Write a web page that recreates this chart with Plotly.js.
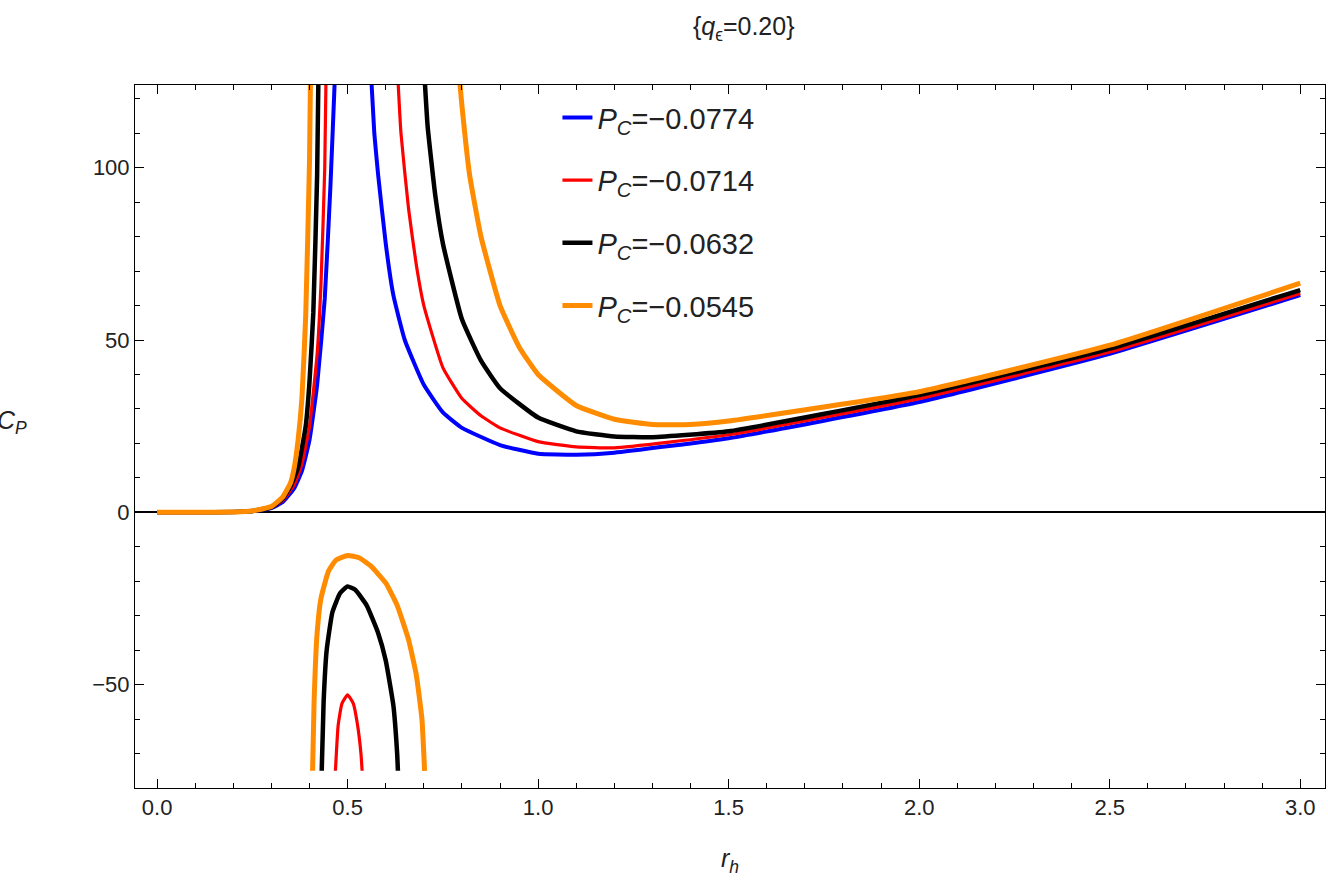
<!DOCTYPE html>
<html><head><meta charset="utf-8">
<script src="https://cdn.plot.ly/plotly-3.0.1.min.js"></script>
<style>body{margin:0}</style></head>
<body><div id="chart" style="width:1328px;height:892px"></div>
<script>
var labels = ['<i>P<sub>C</sub></i>=\u22120.0774', '<i>P<sub>C</sub></i>=\u22120.0714', '<i>P<sub>C</sub></i>=\u22120.0632', '<i>P<sub>C</sub></i>=\u22120.0545'];
var colors = ['#0000ff', '#ff0000', '#000000', '#ff8c00'];
var widths = [4, 3.2, 4.5, 5];

// left (small r_h) branches
var leftX = [
  [0, 0.1, 0.2, 0.25, 0.3, 0.33, 0.36, 0.38, 0.40, 0.42, 0.44, 0.455, 0.465, 0.475],
  [0, 0.1, 0.2, 0.25, 0.3, 0.33, 0.36, 0.38, 0.40, 0.42, 0.43, 0.44, 0.445],
  [0, 0.1, 0.2, 0.25, 0.3, 0.33, 0.35, 0.37, 0.39, 0.40, 0.41, 0.42, 0.425],
  [0, 0.1, 0.2, 0.25, 0.3, 0.33, 0.35, 0.36, 0.37, 0.38, 0.39, 0.40, 0.405]
];
var leftY = [
  [0, 0, 0.1, 0.3, 1.2, 3, 7, 12, 21, 37, 62, 95, 122, 150],
  [0, 0, 0.1, 0.3, 1.3, 3.5, 8, 14, 25, 46, 66, 100, 140],
  [0, 0, 0.1, 0.4, 1.5, 4, 7.5, 13, 25, 38, 58, 98, 140],
  [0, 0, 0.1, 0.4, 1.7, 4.5, 8.5, 13, 21, 33, 57, 102, 150]
];
// right (large r_h) branches
var rightX = [
  [0.56, 0.57, 0.58, 0.6, 0.62, 0.65, 0.7, 0.75, 0.8, 0.9, 1.0, 1.1, 1.2, 1.5, 2.0, 2.5, 3.0],
  [0.63, 0.64, 0.66, 0.68, 0.7, 0.75, 0.8, 0.85, 0.9, 1.0, 1.1, 1.2, 1.5, 2.0, 2.5, 3.0],
  [0.70, 0.71, 0.73, 0.75, 0.8, 0.85, 0.9, 1.0, 1.1, 1.2, 1.3, 1.5, 2.0, 2.5, 3.0],
  [0.79, 0.80, 0.82, 0.85, 0.9, 0.95, 1.0, 1.1, 1.2, 1.3, 1.4, 1.5, 2.0, 2.5, 3.0]
];
var rightY = [
  [130, 110, 98, 78, 63, 50, 37, 29, 24.5, 19.5, 17, 16.7, 17.3, 21.5, 32, 46, 63],
  [130, 110, 88, 72, 60, 42, 33, 28, 24.5, 20.5, 19, 18.7, 22.5, 33, 46.5, 63.5],
  [130, 112, 92, 78, 56, 44, 36, 27.5, 23.5, 22, 21.8, 23.5, 34, 47.5, 64.5],
  [130, 118, 98, 80, 60, 48, 40, 31, 27, 25.5, 25.5, 26.5, 35, 48.5, 66.5]
];
// negative branches (between the two divergences)
var negX = [
  [],
  [0.468, 0.475, 0.485, 0.5, 0.515, 0.525, 0.535, 0.538],
  [0.432, 0.437, 0.445, 0.46, 0.48, 0.5, 0.52, 0.55, 0.58, 0.6, 0.62, 0.63, 0.632],
  [0.408, 0.412, 0.42, 0.43, 0.45, 0.47, 0.5, 0.53, 0.56, 0.6, 0.63, 0.66, 0.68, 0.695, 0.702]
];
var negY = [
  [],
  [-75, -62, -55.5, -53, -55.5, -61, -70, -75],
  [-75, -55, -40, -29, -23.5, -21.5, -22.5, -27, -35, -43, -56, -70, -75],
  [-75, -55, -35, -25, -17, -13.8, -12.5, -13.2, -15.5, -20.5, -27, -37, -47, -60, -75]
];

var data = [];
for (var i = 0; i < 4; i++) {
  var ln = {color: colors[i], width: widths[i], shape: 'spline', smoothing: 0.4};
  data.push({x: leftX[i], y: leftY[i], mode: 'lines', line: ln, name: labels[i], legendgroup: 'g' + i, showlegend: true});
  data.push({x: rightX[i], y: rightY[i], mode: 'lines', line: ln, name: labels[i], legendgroup: 'g' + i, showlegend: false});
  if (negX[i].length) data.push({x: negX[i], y: negY[i], mode: 'lines', line: ln, name: labels[i], legendgroup: 'g' + i, showlegend: false});
}

var axisStyle = {showgrid: false, ticks: 'inside', ticklen: 9, tickcolor: '#000', mirror: 'ticks',
  showline: true, linecolor: '#000', linewidth: 1, tickfont: {size: 22, color: '#222'}};

var layout = {
  width: 1328, height: 892,
  margin: {l: 135, r: 3, t: 85, b: 104},
  paper_bgcolor: '#fff', plot_bgcolor: '#fff',
  font: {family: 'Liberation Sans, Arial, sans-serif', color: '#222'},
  title: {text: '{<i>q</i><sub>\u03f5</sub>=0.20}', font: {size: 25}, x: 0.56, y: 0.98},
  xaxis: Object.assign({}, axisStyle, {range: [-0.058, 3.065], tickvals: [0, 0.5, 1, 1.5, 2, 2.5, 3],
    ticktext: ['0.0', '0.5', '1.0', '1.5', '2.0', '2.5', '3.0'], zeroline: false,
    minor: {ticks: 'inside', ticklen: 5, tickcolor: '#000', dtick: 0.1},
    title: {text: '<i>r<sub>h</sub></i>', font: {size: 25}, standoff: 30}}),
  yaxis: Object.assign({}, axisStyle, {range: [-80, 124], tickvals: [-50, 0, 50, 100], ticktext: ['\u221250', '0', '50', '100'],
    zeroline: true, zerolinecolor: '#000', zerolinewidth: 1.5,
    minor: {ticks: 'inside', ticklen: 5, tickcolor: '#000', dtick: 10}}),
  legend: {x: 0.355, y: 0.99, xanchor: 'left', yanchor: 'top', font: {size: 29}, bgcolor: 'rgba(0,0,0,0)', tracegroupgap: 22},
  annotations: [{text: '<i>C<sub>P</sub></i>', xref: 'paper', yref: 'paper', x: -0.103, y: 0.52, showarrow: false,
    font: {size: 25}, xanchor: 'center'}]
};
Plotly.newPlot('chart', data, layout, {displayModeBar: false});
</script></body></html>
